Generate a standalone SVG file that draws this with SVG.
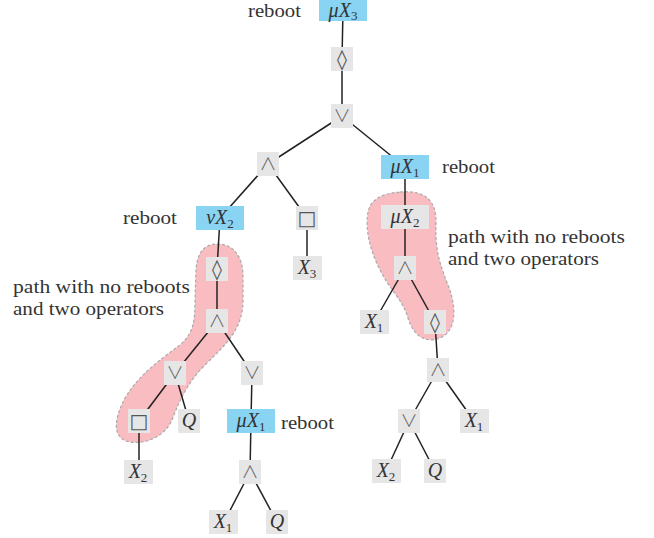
<svg xmlns="http://www.w3.org/2000/svg" width="654" height="538" viewBox="0 0 654 538">
<style>
.op rect{fill:#e6e6e7}
.rb rect{fill:#89d4f2}
.sym{font-family:"DejaVu Sans",sans-serif;font-size:20px;fill:#555;text-anchor:middle}
.lg{font-family:"Noto Sans CJK JP","DejaVu Sans",sans-serif;font-weight:300;font-size:17px;fill:#555;text-anchor:middle}
.m{font-family:"Liberation Serif","DejaVu Serif",serif;font-style:italic;font-size:20px;fill:#333;text-anchor:middle}
.sub{font-style:normal;font-size:13px}
.lbl{font-family:"Liberation Serif","DejaVu Serif",serif;font-size:19px;fill:#333}
.edge line{stroke:#222;stroke-width:1.5}
.blob{fill:#f9bcc0;stroke:#aaa;stroke-width:1.2;stroke-dasharray:3 2}
</style>
<g id="highlights">
<path class="blob" d="M 217 244 C 233 244 243 256 243 276 L 243 300 C 243 330 225 345 205 365 C 190 380 181 396 172 420 C 164 438 142 446 126 441 C 113 436 114 420 124 400 C 138 375 160 360 180 345 C 194 333 195 320 195 300 L 196 270 C 197 252 205 244 217 244 Z"/>
<path class="blob" d="M 400 192 C 425 190 437 200 436 225 C 435 250 440 265 448 285 C 456 305 458 330 440 338 C 425 344 413 335 408 318 C 403 300 390 290 380 270 C 370 250 365 230 368 212 C 371 198 385 193 400 192 Z"/>
</g>
<g id="connectors" class="edge">
<line x1="343" y1="10" x2="342" y2="59"/>
<line x1="342" y1="59" x2="342" y2="116"/>
<line x1="342" y1="116" x2="268" y2="164"/>
<line x1="342" y1="116" x2="405" y2="167"/>
<line x1="268" y1="164" x2="220" y2="218"/>
<line x1="268" y1="164" x2="307" y2="218"/>
<line x1="307" y1="218" x2="307" y2="268"/>
<line x1="220" y1="218" x2="217" y2="269"/>
<line x1="217" y1="269" x2="217" y2="321"/>
<line x1="217" y1="321" x2="175" y2="373"/>
<line x1="217" y1="321" x2="252" y2="373"/>
<line x1="175" y1="373" x2="139" y2="421"/>
<line x1="175" y1="373" x2="189" y2="421"/>
<line x1="252" y1="373" x2="251" y2="421"/>
<line x1="139" y1="421" x2="139" y2="472"/>
<line x1="251" y1="421" x2="250" y2="472"/>
<line x1="250" y1="472" x2="224" y2="522"/>
<line x1="250" y1="472" x2="277" y2="522"/>
<line x1="405" y1="167" x2="405" y2="217"/>
<line x1="405" y1="217" x2="405" y2="268"/>
<line x1="405" y1="268" x2="374" y2="322"/>
<line x1="405" y1="268" x2="435" y2="322"/>
<line x1="435" y1="322" x2="438" y2="370"/>
<line x1="438" y1="370" x2="409" y2="421"/>
<line x1="438" y1="370" x2="474" y2="421"/>
<line x1="409" y1="421" x2="386" y2="471"/>
<line x1="409" y1="421" x2="435" y2="471"/>
</g>
<g id="n1" class="rb"><rect x="319" y="0" width="48" height="21"/><text class="m" x="343" y="17">μX<tspan class="sub" dy="3">3</tspan></text></g>
<g id="n2" class="op"><rect x="331" y="47" width="22" height="24"/><text class="sym" x="342" y="66">◊</text></g>
<g id="n3" class="op"><rect x="331" y="104" width="22" height="24"/><text class="lg" x="342" y="122">∨</text></g>
<g id="n4" class="op"><rect x="257" y="152" width="22" height="24"/><text class="lg" x="268" y="170">∧</text></g>
<g id="n5" class="rb"><rect x="196" y="206" width="48" height="24"/><text class="m" x="220" y="224">νX<tspan class="sub" dy="4">2</tspan></text></g>
<g id="n6" class="op"><rect x="296" y="206" width="22" height="24"/><text class="sym" x="307" y="225">□</text></g>
<g id="n7" class="op"><rect x="293" y="256" width="29" height="24"/><text class="m" x="307" y="274">X<tspan class="sub" dy="4">3</tspan></text></g>
<g id="n8" class="op"><rect x="206" y="257" width="22" height="24"/><text class="sym" x="217" y="276">◊</text></g>
<g id="n9" class="op"><rect x="206" y="309" width="22" height="24"/><text class="lg" x="217" y="327">∧</text></g>
<g id="n10" class="op"><rect x="164" y="361" width="22" height="24"/><text class="lg" x="175" y="379">∨</text></g>
<g id="n11" class="op"><rect x="241" y="361" width="22" height="24"/><text class="lg" x="252" y="379">∨</text></g>
<g id="n12" class="op"><rect x="128" y="409" width="22" height="24"/><text class="sym" x="139" y="428">□</text></g>
<g id="n13" class="op"><rect x="178" y="409" width="22" height="24"/><text class="m" x="189" y="427">Q</text></g>
<g id="n14" class="rb"><rect x="227" y="409" width="48" height="24"/><text class="m" x="251" y="427">μX<tspan class="sub" dy="4">1</tspan></text></g>
<g id="n15" class="op"><rect x="124" y="460" width="29" height="24"/><text class="m" x="138" y="478">X<tspan class="sub" dy="4">2</tspan></text></g>
<g id="n16" class="op"><rect x="239" y="460" width="22" height="24"/><text class="lg" x="250" y="478">∧</text></g>
<g id="n17" class="op"><rect x="209" y="510" width="29" height="24"/><text class="m" x="223" y="528">X<tspan class="sub" dy="4">1</tspan></text></g>
<g id="n18" class="op"><rect x="266" y="510" width="22" height="24"/><text class="m" x="277" y="528">Q</text></g>
<g id="n19" class="rb"><rect x="381" y="155" width="48" height="24"/><text class="m" x="405" y="173">μX<tspan class="sub" dy="4">1</tspan></text></g>
<g id="n20" class="op"><rect x="381" y="205" width="48" height="24"/><text class="m" x="405" y="223">μX<tspan class="sub" dy="4">2</tspan></text></g>
<g id="n21" class="op"><rect x="394" y="256" width="22" height="24"/><text class="lg" x="405" y="274">∧</text></g>
<g id="n22" class="op"><rect x="360" y="310" width="29" height="24"/><text class="m" x="374" y="328">X<tspan class="sub" dy="4">1</tspan></text></g>
<g id="n23" class="op"><rect x="424" y="310" width="22" height="24"/><text class="sym" x="435" y="329">◊</text></g>
<g id="n24" class="op"><rect x="427" y="358" width="22" height="24"/><text class="lg" x="438" y="376">∧</text></g>
<g id="n25" class="op"><rect x="398" y="409" width="22" height="24"/><text class="lg" x="409" y="427">∨</text></g>
<g id="n26" class="op"><rect x="460" y="409" width="29" height="24"/><text class="m" x="474" y="427">X<tspan class="sub" dy="4">1</tspan></text></g>
<g id="n27" class="op"><rect x="372" y="459" width="29" height="24"/><text class="m" x="386" y="477">X<tspan class="sub" dy="4">2</tspan></text></g>
<g id="n28" class="op"><rect x="424" y="459" width="22" height="24"/><text class="m" x="435" y="477">Q</text></g>
<g id="labels">
<text class="lbl" x="248" y="17" textLength="53" lengthAdjust="spacingAndGlyphs">reboot</text>
<text class="lbl" x="123" y="224" textLength="54" lengthAdjust="spacingAndGlyphs">reboot</text>
<text class="lbl" x="442" y="173" textLength="53" lengthAdjust="spacingAndGlyphs">reboot</text>
<text class="lbl" x="281" y="429" textLength="53" lengthAdjust="spacingAndGlyphs">reboot</text>
<text class="lbl" x="448" y="243" textLength="177" lengthAdjust="spacingAndGlyphs">path with no reboots</text>
<text class="lbl" x="448" y="265" textLength="151" lengthAdjust="spacingAndGlyphs">and two operators</text>
<text class="lbl" x="13" y="293" textLength="177" lengthAdjust="spacingAndGlyphs">path with no reboots</text>
<text class="lbl" x="13" y="315" textLength="151" lengthAdjust="spacingAndGlyphs">and two operators</text>
</g>
</svg>
